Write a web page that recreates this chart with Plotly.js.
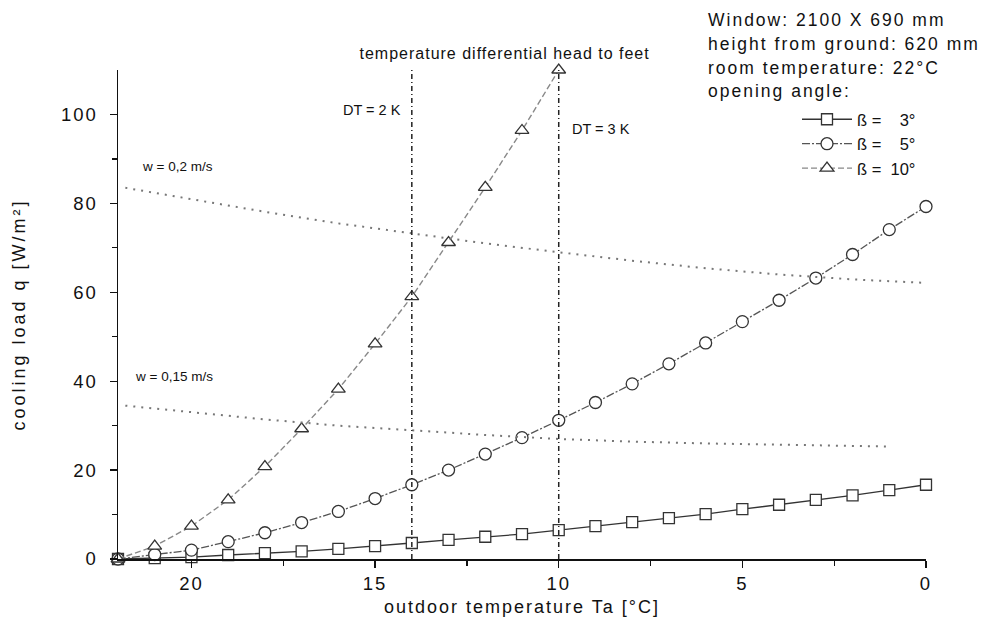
<!DOCTYPE html>
<html>
<head>
<meta charset="utf-8">
<script src="https://cdn.plot.ly/plotly-3.0.1.min.js"></script>
<style>
html,body{margin:0;padding:0;background:#fff;}
#chart{width:985px;height:631px;}
#chart .xtick text, #chart .ytick text {letter-spacing:2px;}
#chart .g-xtitle text {letter-spacing:2px;}
#chart .g-ytitle text {letter-spacing:3px;}
</style>
</head>
<body>
<div id="chart"></div>
<script>
// Outdoor temperature (°C)
const temps = [22,21,20,19,18,17,16,15,14,13,12,11,10,9,8,7,6,5,4,3,2,1,0];
// Cooling load per opening angle (W/m²)
const beta3 = [0,0.2,0.4,0.9,1.3,1.7,2.3,2.9,3.6,4.3,5.0,5.6,6.5,7.4,8.3,9.2,10.1,11.2,12.2,13.3,14.3,15.5,16.7];
const beta5 = [0,1.0,2.0,3.9,5.9,8.2,10.7,13.6,16.7,20.0,23.6,27.3,31.2,35.2,39.4,43.9,48.6,53.4,58.2,63.2,68.5,74.1,79.3];
const temps10 = [22,21,20,19,18,17,16,15,14,13,12,11,10];
const beta10 = [0,2.9,7.4,13.3,20.8,29.3,38.2,48.4,59.0,71.2,83.6,96.4,110];
// Air velocity limit curves
const w02x = [21.8,20,18,16,14,12,10,8,6,4,2,0];
const w02y = [83.5,81.0,78.1,75.5,73.2,71.0,69.0,67.1,65.4,64.0,62.9,62.1];
const w015x = [21.8,20,18,16,14,12,10,8,6,4,2,1];
const w015y = [34.5,33.0,31.4,30.0,28.9,27.9,27.0,26.4,26.0,25.7,25.4,25.3];
// Temperature differential head-to-feet markers
const dtX = [14, 10];
const dtLabels = ["DT = 2 K", "DT = 3 K"];
const legendNames = ["ß =\u00a0\u00a0\u00a0 3°", "ß =\u00a0\u00a0\u00a0 5°", "ß =\u00a0 10°"];
const infoLines = ["Window: 2100 X 690 mm", "height from ground: 620 mm", "room temperature: 22°C", "opening angle:"];
const yMax = 110;

const font = "Liberation Sans, Arial, sans-serif";
const mk = (sym, sz) => ({symbol: sym, size: sz, color: "#ffffff", line: {color: "#333", width: 1.3}});

const traces = [
  {x: temps, y: beta3, mode: "lines+markers", name: legendNames[0], cliponaxis: false,
   line: {color: "#333", width: 1.3}, marker: mk("square", 11)},
  {x: temps, y: beta5, mode: "lines+markers", name: legendNames[1], cliponaxis: false,
   line: {color: "#555", width: 1.3, dash: "8px,2px,2px,2px"}, marker: mk("circle", 12)},
  {x: temps10, y: beta10, mode: "lines+markers", name: legendNames[2], cliponaxis: false,
   line: {color: "#888", width: 1.4, dash: "6px,3px"}, marker: mk("triangle-up", 12)},
  {x: w02x, y: w02y, mode: "lines", showlegend: false, line: {color: "#777", width: 2, dash: "2px,6px"}},
  {x: w015x, y: w015y, mode: "lines", showlegend: false, line: {color: "#777", width: 2, dash: "2px,6px"}}
];
dtX.forEach(v => traces.push({x: [v, v], y: [0, yMax], mode: "lines", showlegend: false,
  line: {color: "#222", width: 1.5, dash: "5px,3px,1px,3px"}}));

const ann = [];
const infoY = [20, 44, 68, 91];
infoLines.forEach((t, i) => ann.push({xref: "paper", yref: "paper", x: (706 - 118) / 808, y: (559 - infoY[i]) / 489,
  xanchor: "left", yanchor: "middle", align: "left", text: t, showarrow: false,
  font: {family: font, size: 17.5, color: "#111"}}));
ann.push({xref: "x", yref: "paper", x: 11.47, y: (559 - 54) / 489, text: "temperature differential head to feet",
  showarrow: false, xanchor: "center", yanchor: "middle", font: {family: font, size: 16, color: "#111"}});
ann.push({xref: "x", yref: "y", x: dtX[0], y: 101.1, text: dtLabels[0], showarrow: false, xanchor: "right", xshift: -9,
  font: {family: font, size: 14.5, color: "#111"}});
ann.push({xref: "x", yref: "y", x: dtX[1], y: 96.8, text: dtLabels[1], showarrow: false, xanchor: "left", xshift: 11,
  font: {family: font, size: 14.5, color: "#111"}});
ann.push({xref: "x", yref: "y", x: 21.39, y: 88.3, text: "w = 0,2 m/s", showarrow: false, xanchor: "left", align: "left",
  font: {family: font, size: 13.5, color: "#111"}});
ann.push({xref: "x", yref: "y", x: 21.6, y: 41.0, text: "w = 0,15 m/s", showarrow: false, xanchor: "left", align: "left",
  font: {family: font, size: 13.5, color: "#111"}});

const layout = {
  width: 985, height: 631,
  margin: {l: 118, r: 59, t: 70, b: 72},
  paper_bgcolor: "#fff", plot_bgcolor: "#fff",
  font: {family: font, color: "#111"},
  showlegend: true,
  legend: {x: (797 - 118) / 808, y: (559 - 102) / 489, xanchor: "left", yanchor: "top", bgcolor: "rgba(0,0,0,0)",
    font: {family: font, size: 16.5, color: "#111"}, tracegroupgap: 0, itemwidth: 50},
  xaxis: {
    range: [22, 0], showgrid: false, zeroline: false, showline: true, linecolor: "#111", linewidth: 1.5,
    ticks: "outside", ticklen: 7, tickwidth: 1.3, tickcolor: "#111",
    tickvals: [20, 15, 10, 5, 0], tickfont: {family: font, size: 18.5, color: "#111"},
    minor: {tickvals: [17.5, 12.5, 7.5, 2.5], ticks: "outside", ticklen: 5, tickcolor: "#111", tickwidth: 1.2},
    title: {text: "outdoor temperature Ta [°C]", font: {family: font, size: 18, color: "#111"}, standoff: 7}
  },
  yaxis: {
    range: [0, yMax], showgrid: false, zeroline: false, showline: true, linecolor: "#111", linewidth: 1.5,
    ticks: "outside", ticklen: 7, tickwidth: 1.3, tickcolor: "#111", ticklabelstandoff: 8,
    tickvals: [0, 20, 40, 60, 80, 100], tickfont: {family: font, size: 18.5, color: "#111"},
    minor: {tickvals: [10, 30, 50, 70, 90], ticks: "outside", ticklen: 5, tickcolor: "#111", tickwidth: 1.2},
    title: {text: "cooling load q [W/m²]", font: {family: font, size: 18, color: "#111"}, standoff: 36}
  },
  annotations: ann
};
Plotly.newPlot("chart", traces, layout, {displayModeBar: false, staticPlot: true}).then(() => {
  document.querySelectorAll("#chart .annotation").forEach(g => {
    const idx = +g.getAttribute("data-index");
    const t = g.querySelector("text");
    if (t && idx < infoLines.length) t.style.letterSpacing = "2px";
    else if (t && idx === infoLines.length) t.style.letterSpacing = "1px";
  });
});
</script>
</body>
</html>
